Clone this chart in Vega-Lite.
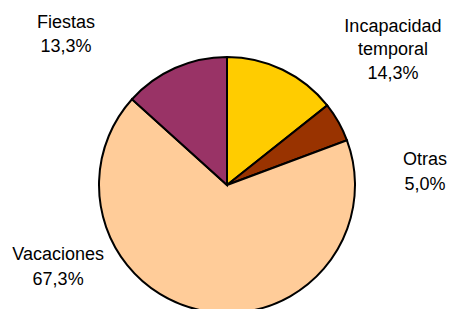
{
  "$schema": "https://vega.github.io/schema/vega-lite/v6.json",
  "width": 444,
  "height": 248,
  "autosize": {"type": "none"},
  "padding": {"left": 5, "top": 61, "right": 0, "bottom": 0},
  "background": "white",
  "config": {"view": {"stroke": null}},
  "data": {
    "values": [
      {"categoria": "Incapacidad temporal", "pct": 14.3, "orden": 1},
      {"categoria": "Otras", "pct": 5.0, "orden": 2},
      {"categoria": "Vacaciones", "pct": 67.3, "orden": 3},
      {"categoria": "Fiestas", "pct": 13.3, "orden": 4}
    ]
  },
  "transform": [
    {"stack": "pct", "groupby": [], "sort": [{"field": "orden"}], "as": ["a0", "a1"]},
    {"calculate": "(datum.a0 + datum.a1) / 2", "as": "amid"},
    {"calculate": "replace(datum.categoria, ' ', '\\n') + '\\n' + replace(format(datum.pct, '.1f'), '.', ',') + '%'", "as": "etiqueta"}
  ],
  "layer": [
    {
      "mark": {"type": "arc", "outerRadius": 128, "stroke": "black", "strokeWidth": 2},
      "encoding": {
        "theta": {"field": "a0", "type": "quantitative", "stack": null, "scale": {"domain": [0, 99.9]}},
        "theta2": {"field": "a1"},
        "color": {
          "field": "categoria", "type": "nominal", "legend": null,
          "scale": {
            "domain": ["Incapacidad temporal", "Otras", "Vacaciones", "Fiestas"],
            "range": ["#FFCC00", "#993300", "#FFCC99", "#993366"]
          }
        }
      }
    },
    {
      "transform": [{"filter": "datum.categoria === 'Fiestas'"}],
      "mark": {"type": "text", "radius": 170, "dx": -92, "dy": -2, "align": "center", "baseline": "alphabetic", "font": "Liberation Sans", "fontSize": 18, "lineHeight": 24.5, "lineBreak": "\n", "color": "black"},
      "encoding": {
        "theta": {"field": "amid", "type": "quantitative", "stack": null, "scale": {"domain": [0, 99.9]}},
        "text": {"field": "etiqueta"}
      }
    },
    {
      "transform": [{"filter": "datum.categoria === 'Incapacidad temporal'"}],
      "mark": {"type": "text", "radius": 170, "dx": 92, "dy": 0, "align": "center", "baseline": "alphabetic", "font": "Liberation Sans", "fontSize": 18, "lineHeight": 23.5, "lineBreak": "\n", "color": "black"},
      "encoding": {
        "theta": {"field": "amid", "type": "quantitative", "stack": null, "scale": {"domain": [0, 99.9]}},
        "text": {"field": "etiqueta"}
      }
    },
    {
      "transform": [{"filter": "datum.categoria === 'Otras'"}],
      "mark": {"type": "text", "radius": 170, "dx": 50, "dy": 64, "align": "center", "baseline": "alphabetic", "font": "Liberation Sans", "fontSize": 18, "lineHeight": 25, "lineBreak": "\n", "color": "black"},
      "encoding": {
        "theta": {"field": "amid", "type": "quantitative", "stack": null, "scale": {"domain": [0, 99.9]}},
        "text": {"field": "etiqueta"}
      }
    },
    {
      "transform": [{"filter": "datum.categoria === 'Vacaciones'"}],
      "mark": {"type": "text", "radius": 170, "dx": -137, "dy": -92, "align": "center", "baseline": "alphabetic", "font": "Liberation Sans", "fontSize": 18, "lineHeight": 25, "lineBreak": "\n", "color": "black"},
      "encoding": {
        "theta": {"field": "amid", "type": "quantitative", "stack": null, "scale": {"domain": [0, 99.9]}},
        "text": {"field": "etiqueta"}
      }
    }
  ]
}
